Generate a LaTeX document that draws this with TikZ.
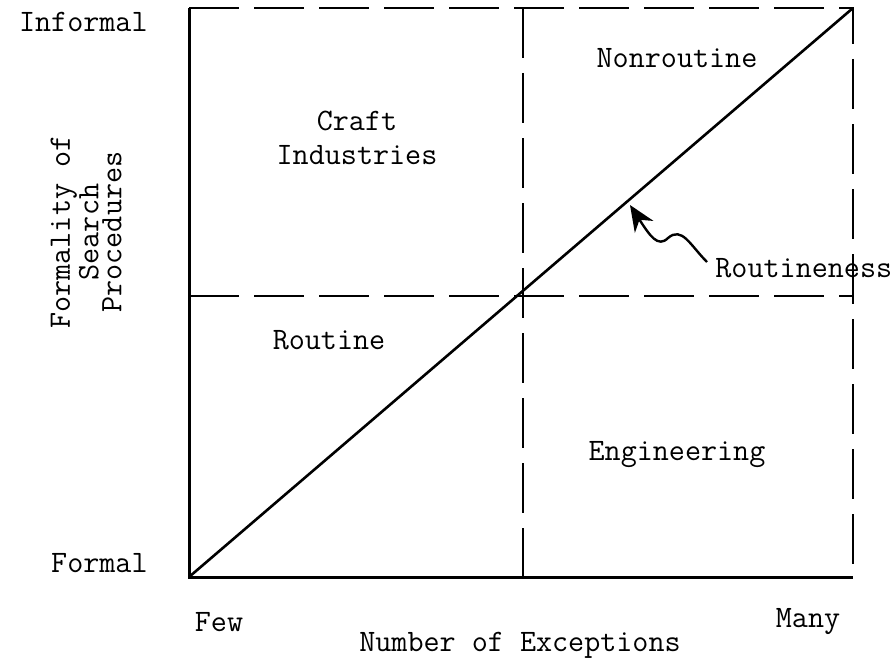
\documentclass[tikz,border=0pt]{standalone}
\usepackage{tikz}
\usetikzlibrary{positioning, arrows.meta}
\tikzset{
  lbl/.style={font=\fontsize{15.6}{17}\selectfont\ttfamily, inner sep=0pt, align=center},
  axisline/.style={line width=1.5pt},
  divline/.style={line width=1.2pt, dash pattern=on 25pt off 7.5pt}
}

\begin{document}
\begin{tikzpicture}[x=0.5pt, y=-0.5pt]
    \useasboundingbox (0,0) rectangle (893,658);
    % corners of the grid
    \coordinate (O) at (189,577);
    \coordinate (TL) at (189,8);
    \coordinate (TR) at (853,8);
    \coordinate (BR) at (853,577);
    \coordinate (midT) at (523,8);
    \coordinate (midB) at (523,577);
    \coordinate (midL) at (189,296);
    \coordinate (midR) at (853,296);

    \draw[divline] (TL) -- (TR) -- (BR);
    \draw[divline] (midT) -- (midB);
    \draw[divline] (midL) -- (midR);
    \draw[axisline] (TL) -- (O) -- (BR);
    \draw[line width=1.3pt] (O) -- (TR);

    \node[lbl, anchor=east] (informal) at (148,22) {Informal};
    \node[lbl, anchor=east] (formal) at (148,563) {Formal};
    \node[lbl] (few) at (219,622) {Few};
    \node[lbl] (many) at (808,622) {Many};
    \node[lbl] (exc) at (520,645) {Number of Exceptions};
    \node[lbl, rotate=90, font=\fontsize{15.6}{11.5}\selectfont\ttfamily] (form) at (86,232) {Formality of\\Search\\Procedures};

    \node[lbl] (craft) at (357,138) {Craft\\Industries};
    \node[lbl] (nonr) at (677,58) {Nonroutine};
    \node[lbl] (rout) at (329,340) {Routine};
    \node[lbl] (eng) at (677,455) {Engineering};
    \node[lbl, anchor=west] (routn) at (715,268) {Routineness};

    \coordinate (tip) at (630,205);
    \draw[line width=1.2pt, -{Stealth[length=13pt, width=11pt]}]
      (routn.west) ++(-8,-6) .. controls (690,245) and (682,226) .. (668,238)
      .. controls (658,248) and (650,236) .. (tip);
\end{tikzpicture}
\end{document}
